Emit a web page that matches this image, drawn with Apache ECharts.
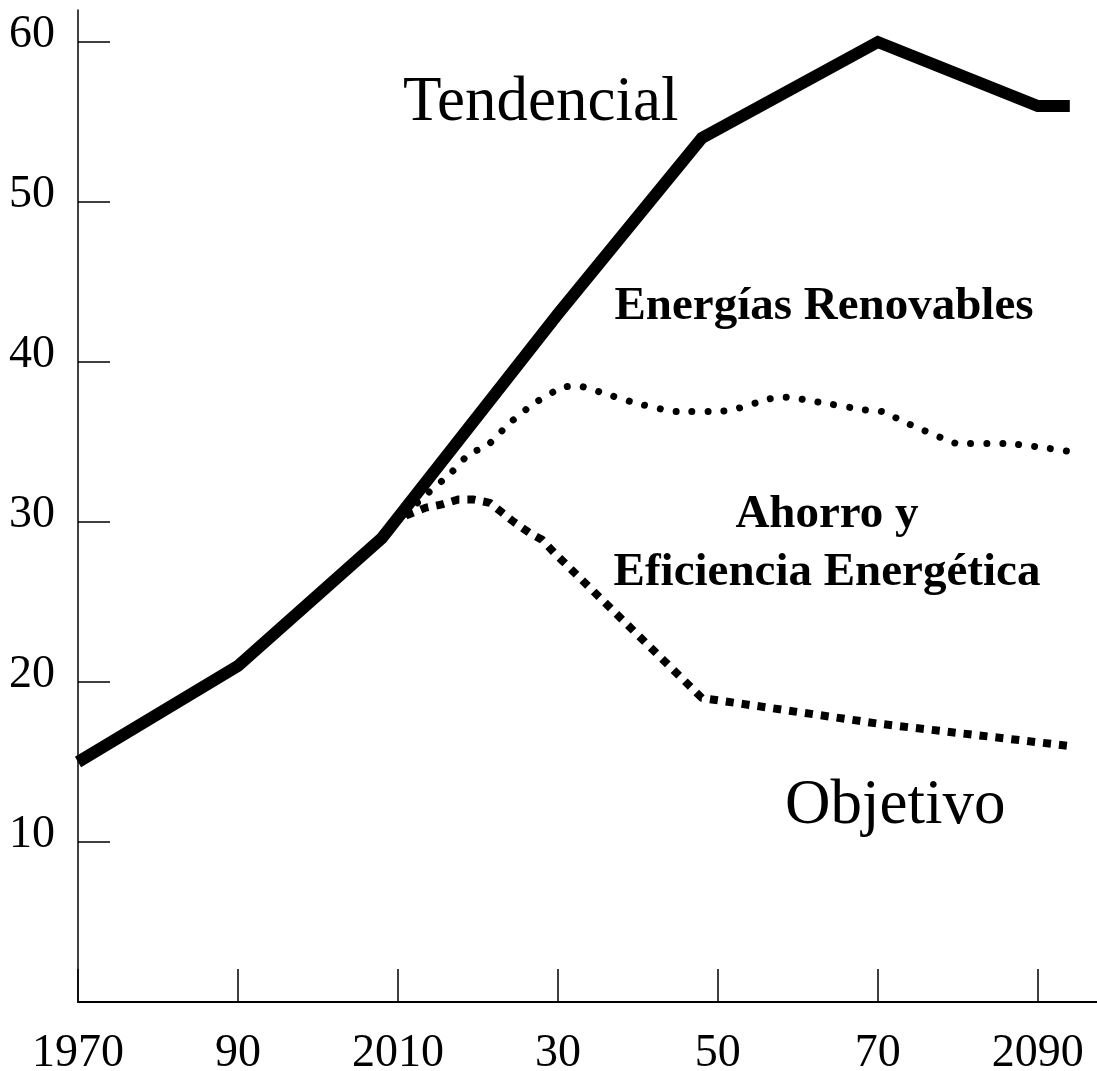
<!DOCTYPE html>
<html>
<head>
<meta charset="utf-8">
<script src="https://cdn.jsdelivr.net/npm/echarts@6/dist/echarts.min.js"></script>
<style>
  html, body { margin: 0; padding: 0; background: #fff; }
  #main { width: 1097px; height: 1071px; }
</style>
</head>
<body>
<div id="main"></div>
<script>
// años en que se marcan las divisiones y su rótulo
var xTicks = [1970, 1990, 2010, 2030, 2050, 2070, 2090];
var xTickLabels = ['1970', '90', '2010', '30', '50', '70', '2090'];
var yTicks = [10, 20, 30, 40, 50, 60];

// [año, valor]
var tendencial = [[1970, 15], [1990, 21], [2008, 29], [2030, 43], [2048, 54], [2070, 60], [2090, 56], [2094, 56]];
var renovables = [[2011, 30.5], [2013.5, 31.7], [2016.5, 33], [2019, 34.3], [2021, 34.7], [2024, 36.2], [2027, 37.4],
  [2030.5, 38.4], [2032.5, 38.5], [2036, 38], [2040, 37.4], [2045, 36.9], [2050, 36.9], [2052.5, 37.1],
  [2056.5, 37.7], [2058.5, 37.8], [2062.5, 37.5], [2068.5, 37], [2070.5, 36.9], [2074, 36.1], [2078, 35.25],
  [2080, 34.9], [2086, 34.9], [2090, 34.7], [2094, 34.4]];
var objetivo = [[2011, 30.4], [2013.5, 30.9], [2015.5, 31.1], [2017.5, 31.4], [2019.5, 31.4], [2021.5, 31.2],
  [2023, 30.6], [2024.5, 30], [2026.5, 29.3], [2028, 28.9], [2029.5, 28.1], [2048, 19], [2070, 17.4], [2094, 16]];

var serif = '"Liberation Serif", "Times New Roman", serif';

var myChart = echarts.init(document.getElementById('main'));
var option = {
  animation: false,
  backgroundColor: '#fff',
  grid: { left: 78, right: 0, top: 10, bottom: 69, outerBoundsMode: 'none' },
  xAxis: {
    type: 'value',
    min: 1970,
    max: 2097.4,
    splitLine: { show: false },
    axisLine: { lineStyle: { color: '#000', width: 2 } },
    axisTick: { show: true, inside: true, length: 33, customValues: xTicks, lineStyle: { color: '#000', width: 1.5 } },
    axisLabel: {
      customValues: xTicks,
      margin: 29,
      color: '#000',
      fontFamily: serif,
      fontSize: 46,
      formatter: function (v) { return xTickLabels[xTicks.indexOf(v)]; }
    }
  },
  yAxis: {
    type: 'value',
    min: 0,
    max: 62,
    splitLine: { show: false },
    axisLine: { show: true, lineStyle: { color: '#000', width: 1.5 } },
    axisTick: { show: true, inside: true, length: 32, customValues: yTicks, lineStyle: { color: '#000', width: 1.5 } },
    axisLabel: {
      customValues: yTicks,
      margin: 23,
      color: '#000',
      fontFamily: serif,
      fontSize: 46,
      verticalAlign: 'bottom',
      lineHeight: 14
    }
  },
  series: [
    {
      name: 'Tendencial',
      type: 'line',
      data: tendencial,
      showSymbol: false,
      lineStyle: { color: '#000', width: 12, cap: 'butt', join: 'miter' }
    },
    {
      name: 'Energías Renovables',
      type: 'line',
      data: renovables,
      showSymbol: false,
      smooth: 0.2,
      lineStyle: { color: '#000', width: 7, type: [0.01, 16], cap: 'round' }
    },
    {
      name: 'Objetivo',
      type: 'line',
      data: objetivo,
      showSymbol: false,
      lineStyle: { color: '#000', width: 8, type: [8, 8], cap: 'butt' }
    }
  ],
  graphic: [
    { type: 'text', left: 403, top: 72, style: { text: 'Tendencial', font: '63px ' + serif, fill: '#000' } },
    { type: 'text', left: 785, top: 775, style: { text: 'Objetivo', font: '63px ' + serif, fill: '#000' } },
    { type: 'text', x: 824, y: 307, style: { text: 'Energías Renovables', font: 'bold 47px ' + serif, fill: '#000', align: 'center', verticalAlign: 'middle' } },
    { type: 'text', x: 827, y: 515, style: { text: 'Ahorro y', font: 'bold 47px ' + serif, fill: '#000', align: 'center', verticalAlign: 'middle' } },
    { type: 'text', x: 827, y: 573, style: { text: 'Eficiencia Energética', font: 'bold 47px ' + serif, fill: '#000', align: 'center', verticalAlign: 'middle' } }
  ]
};
myChart.setOption(option);
</script>
</body>
</html>
